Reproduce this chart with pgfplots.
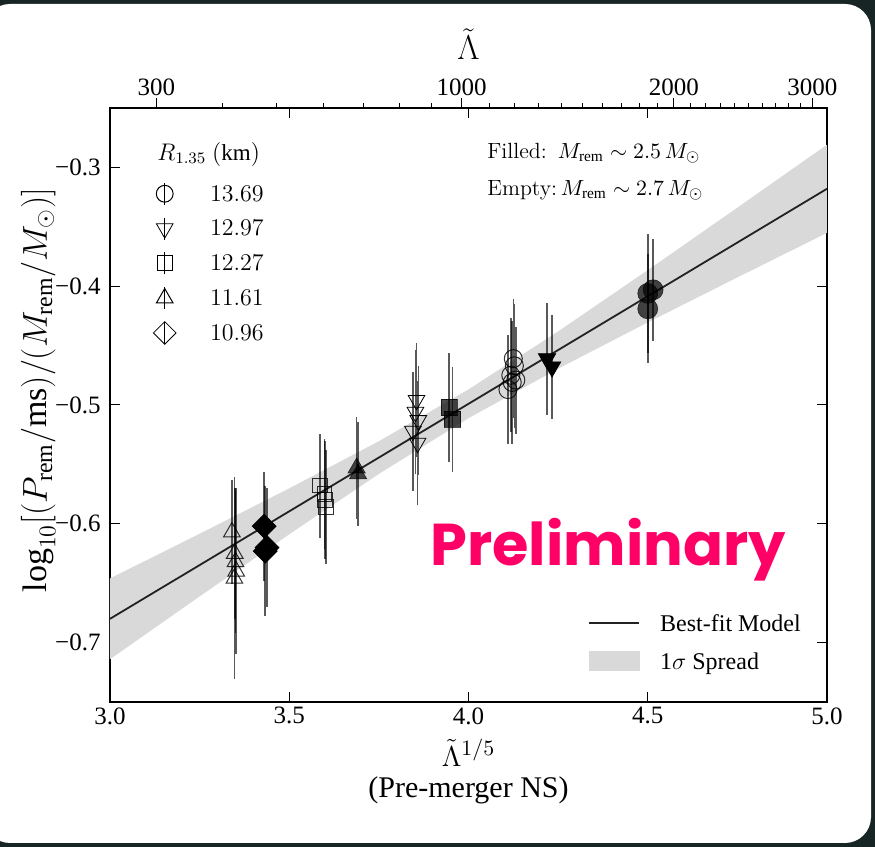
\documentclass[border=0pt]{standalone}
\usepackage{pgfplots}
\usepackage{pgfplotstable}
\pgfplotsset{compat=1.18}
\usepackage{fontspec}
\setmainfont{Liberation Serif}
\newfontfamily\prelimfont{Poppins}
\newcommand\lmr{\fontfamily{lmr}\selectfont}
\definecolor{bgdark}{RGB}{23,37,36}
\definecolor{bandgray}{RGB}{217,217,217}
\definecolor{prelim}{RGB}{255,0,102}
\definecolor{fitline}{RGB}{34,34,34}

% columns: x, y, error
\pgfplotstableread{
x y ey
3.340 -0.607 0.044
3.348 -0.625 0.055
3.350 -0.632 0.060
3.352 -0.640 0.070
3.347 -0.646 0.085
}\triupE
\pgfplotstableread{
x y ey
3.430 -0.602 0.046
3.438 -0.620 0.050
3.433 -0.623 0.055
}\diamF
\pgfplotstableread{
x y ey
3.586 -0.568 0.044
3.598 -0.575 0.046
3.600 -0.580 0.050
3.602 -0.586 0.048
}\squareE
\pgfplotstableread{
x y ey
3.688 -0.553 0.043
3.692 -0.558 0.044
}\triupF
\pgfplotstableread{
x y ey
3.855 -0.496 0.048
3.852 -0.506 0.052
3.860 -0.513 0.046
3.845 -0.522 0.050
3.858 -0.532 0.052
}\tridnE
\pgfplotstableread{
x y ey
3.946 -0.502 0.046
3.955 -0.512 0.044
}\squareF
\pgfplotstableread{
x y ey
4.125 -0.461 0.050
4.128 -0.467 0.052
4.118 -0.475 0.048
4.132 -0.479 0.045
4.122 -0.481 0.052
4.110 -0.487 0.046
}\circE
\pgfplotstableread{
x y ey
4.219 -0.461 0.047
4.233 -0.468 0.044
}\tridnF
\pgfplotstableread{
x y ey
4.500 -0.406 0.050
4.515 -0.403 0.043
4.500 -0.419 0.046
}\circF

\pgfplotsset{
  ebars/.style={only marks, forget plot,
    error bars/y dir=both, error bars/y explicit, error bars/error mark=none,
    error bars/error bar style={black, line width=0.8pt, opacity=0.65}},
  filledmk/.style={ebars, mark options={draw=black, fill=black, draw opacity=0.7, fill opacity=0.7, line width=0.3pt}},
  emptymk/.style={ebars, mark options={draw=black, draw opacity=0.8, line width=0.5pt}},
  legmk/.style={only marks, black, mark options={line width=0.5pt},
    legend image code/.code={
      \draw[black, line width=0.5pt] (4.5pt,-5.5pt) -- (4.5pt,5.5pt);
      \draw[mark repeat=2, mark phase=2, ##1] plot coordinates {(0pt,0pt) (4.5pt,0pt) (9pt,0pt)};}},
}

\begin{document}
\begin{tikzpicture}
\fill[bgdark] (0,0) rectangle (437.5pt,423.5pt);
\fill[white, rounded corners=13pt, overlay] (-8pt,2pt) rectangle (435.5pt,421.5pt);

\begin{axis}[
  at={(55pt,72.5pt)}, anchor=south west,
  width=358.5pt, height=297pt, scale only axis,
  xmin=3, xmax=5, ymin=-0.75, ymax=-0.25,
  xtick={3,3.5,4,4.5,5}, xticklabels={3.0,3.5,4.0,4.5,5.0},
  ytick={-0.7,-0.6,-0.5,-0.4,-0.3}, yticklabels={−0.7,−0.6,−0.5,−0.4,−0.3},
  tick align=inside, tick pos=both, xticklabel pos=lower, yticklabel pos=left,
  major tick length=5pt,
  tick style={black, line width=0.5pt},
  axis line style={line width=0.9pt},
  xticklabel style={font=\fontsize{12.5}{14}\selectfont, inner sep=2.5pt},
  yticklabel style={font=\fontsize{12.5}{14}\selectfont, inner sep=0pt, xshift=-4.5pt},
  xlabel={$\tilde{\Lambda}^{1/5}$\\[-1pt](Pre-merger NS)},
  xlabel style={align=center, font=\fontsize{15}{16.5}\selectfont, at={(axis description cs:0.5,-0.062)}, anchor=north, inner sep=0pt},
  ylabel={$\log_{10}[(P_\mathrm{rem}/\mathrm{ms})/(M_\mathrm{rem}/M_\odot)]$},
  ylabel style={font=\fontsize{17}{17}\selectfont, at={(axis description cs:-0.1,0.525)}, anchor=center, inner sep=0pt},
  legend style={draw=none, fill=none, inner sep=0pt, at={(axis cs:3.120,-0.3114)}, anchor=north west,
    font=\fontsize{11.5}{12}\selectfont, row sep=5pt, column sep=17pt,
    nodes={inner sep=0pt, text height=9.9pt, text depth=2.5pt}},
  legend cell align=left,
]
\addlegendimage{legmk, mark=o, mark size=4.2pt}
\addlegendentry{$13.69$}
\addlegendimage{legmk, mark=triangle, mark size=4.8pt, mark options={rotate=180}}
\addlegendentry{$12.97$}
\addlegendimage{legmk, mark=square, mark size=3.8pt}
\addlegendentry{$12.27$}
\addlegendimage{legmk, mark=triangle, mark size=4.8pt}
\addlegendentry{$11.61$}
\addlegendimage{legmk, mark=square, mark size=4pt, mark options={rotate=45}}
\addlegendentry{$10.96$}

% 1 sigma band
\addplot[fill=bandgray, draw=none, forget plot] coordinates {
 (3.0,-0.646) (3.25,-0.6084) (3.5,-0.5702) (3.75,-0.5305) (4.0,-0.4869)
 (4.25,-0.4381) (4.5,-0.3865) (4.75,-0.3339) (5.0,-0.2809)
 (5.0,-0.3551) (4.75,-0.3926) (4.5,-0.4305) (4.25,-0.4694) (4.0,-0.5111)
 (3.75,-0.5580) (3.5,-0.6088) (3.25,-0.6611) (3.0,-0.714)
} -- cycle;
% best fit
\addplot[fitline, line width=0.9pt, forget plot] coordinates {(3.0,-0.680) (5.0,-0.318)};

\addplot[emptymk, mark=triangle, mark size=4.8pt] table[x=x, y=y, y error=ey] {\triupE};
\addplot[filledmk, mark=square*, mark size=4.2pt, mark options={rotate=45}] table[x=x, y=y, y error=ey] {\diamF};
\addplot[emptymk, mark=square, mark size=3.6pt] table[x=x, y=y, y error=ey] {\squareE};
\addplot[filledmk, mark=triangle*, mark size=5pt] table[x=x, y=y, y error=ey] {\triupF};
\addplot[emptymk, mark=triangle, mark size=4.8pt, mark options={rotate=180}] table[x=x, y=y, y error=ey] {\tridnE};
\addplot[filledmk, mark=square*, mark size=4.1pt] table[x=x, y=y, y error=ey] {\squareF};
\addplot[emptymk, mark=o, mark size=4.5pt] table[x=x, y=y, y error=ey] {\circE};
\addplot[filledmk, mark=triangle*, mark size=5pt, mark options={rotate=180}] table[x=x, y=y, y error=ey] {\tridnF};
\addplot[filledmk, mark=*, mark size=5pt] table[x=x, y=y, y error=ey] {\circF};

\node[anchor=base west, font=\fontsize{11.5}{12}\selectfont, inner sep=0pt] at (axis cs:3.131,-0.2941) {$R_{1.35}\ \mathrm{(km)}$};
\node[anchor=base west, font=\fontsize{11}{12}\selectfont, inner sep=0pt] at (axis cs:4.0516,-0.2924) {\lmr Filled:\ \,$M_\mathrm{rem}\sim 2.5\,M_\odot$};
\node[anchor=base west, font=\fontsize{11}{12}\selectfont, inner sep=0pt] at (axis cs:4.0516,-0.3236) {\lmr Empty:\,$M_\mathrm{rem}\sim 2.7\,M_\odot$};
\node[anchor=base west, inner sep=0pt, text=prelim, font=\prelimfont\bfseries\fontsize{29.5}{30}\selectfont] at (axis cs:3.893,-0.635) {Preliminary};
\end{axis}

\begin{axis}[
  at={(55pt,72.5pt)}, anchor=south west,
  width=358.5pt, height=297pt, scale only axis,
  xmin=3, xmax=5, ymin=-0.75, ymax=-0.25,
  axis x line*=top, axis y line=none,
  axis line style={line width=0.9pt},
  xtick={3.1291,3.9811,4.5730,4.9593}, xticklabels={300,1000,2000,3000},
  minor xtick={3.3144,3.4657,3.5944,3.7070,3.8073,3.8981,4.0576,4.1289,4.1955,4.2582,4.3174,4.3735,4.4268,4.4777,4.5263,4.6179,4.6610,4.7026,4.7428,4.7817,4.8193,4.8558,4.8913,4.9257},
  tick align=outside, major tick length=5pt, minor tick length=2.5pt,
  tick style={black, line width=0.5pt},
  xticklabel style={font=\fontsize{12.5}{14}\selectfont, inner sep=1pt},
  xlabel={$\tilde{\Lambda}$},
  xlabel style={font=\fontsize{16}{16}\selectfont, at={(axis description cs:0.5,1.081)}, anchor=base, inner sep=0pt},
  legend style={draw=none, fill=none, inner sep=0pt, at={(axis cs:4.3333,-0.6714)}, anchor=north west,
    font=\fontsize{12}{13}\selectfont, row sep=5pt, column sep=10pt,
    nodes={inner sep=0pt, text height=11pt, text depth=3pt}},
  legend cell align=left,
]
\addlegendimage{fitline, line width=0.9pt, legend image code/.code={\draw[##1] (0pt,0pt) -- (25pt,0pt);}}
\addlegendentry{Best-fit Model}
\addlegendimage{legend image code/.code={\fill[bandgray] (0pt,-4.75pt) rectangle (25pt,4.75pt);}}
\addlegendentry{1$\sigma$ Spread}
\end{axis}
\end{tikzpicture}
\end{document}
